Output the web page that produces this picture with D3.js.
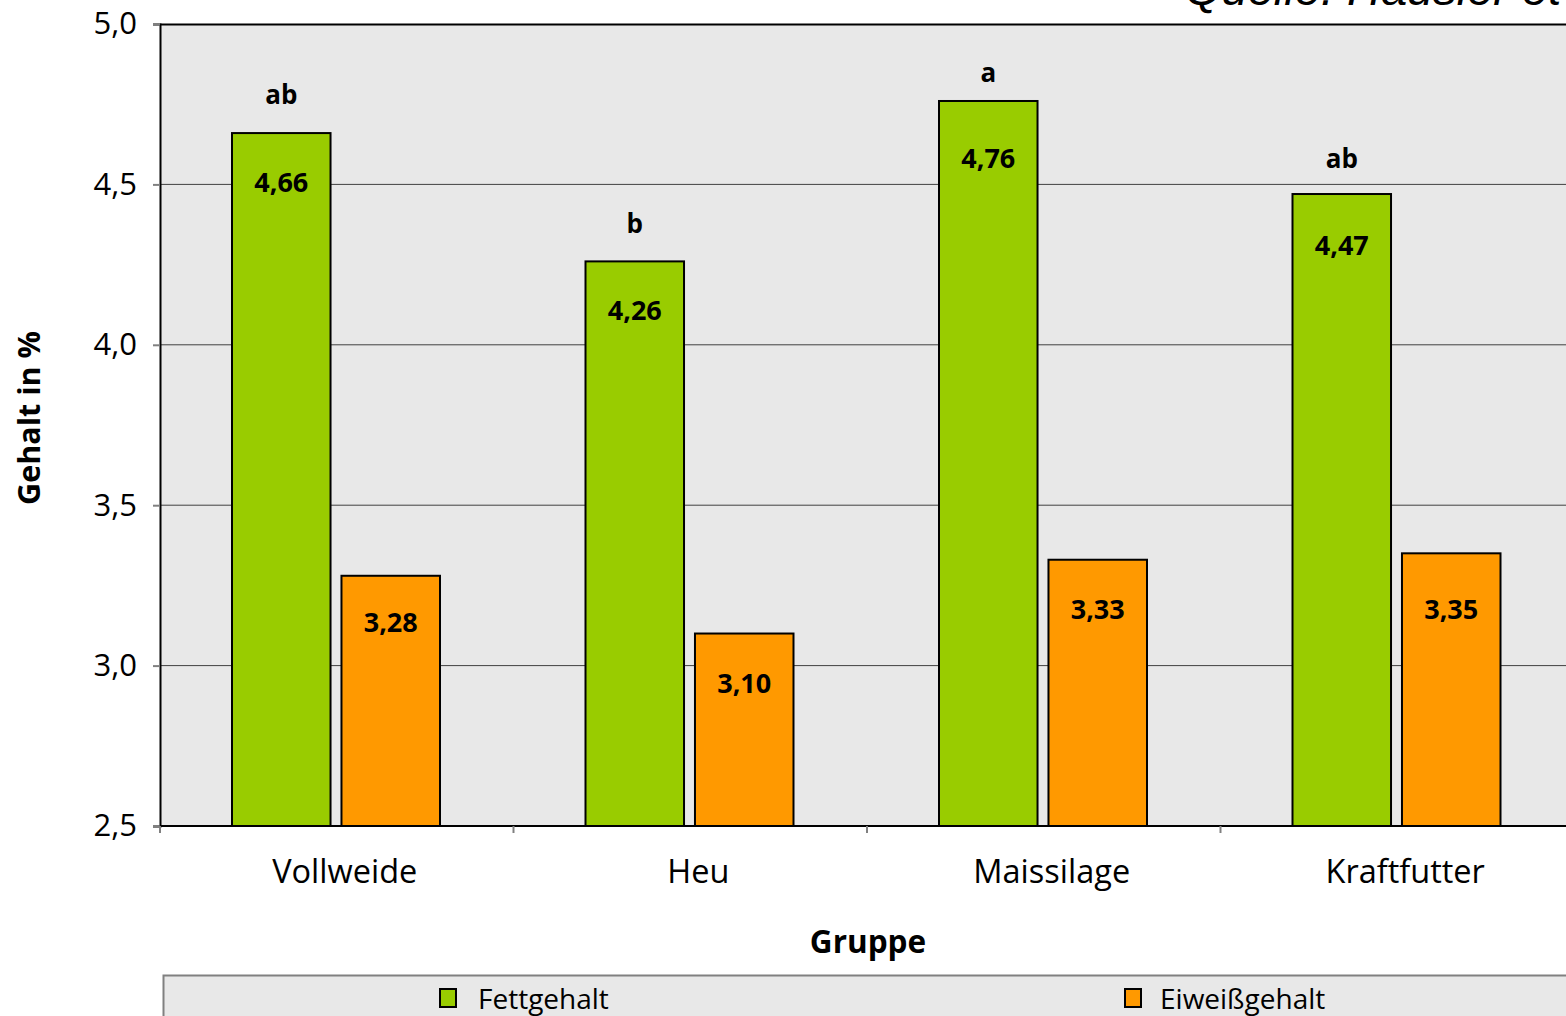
<!DOCTYPE html>
<html><head><meta charset="utf-8">
<script src="https://cdn.jsdelivr.net/npm/d3@7"></script>
<style>
body{margin:0;background:#fff;}
svg{display:block;font-family:"Open Sans",sans-serif;}
</style></head>
<body>
<svg id="c" width="1566" height="1016"></svg>
<script>
const categories = ["Vollweide","Heu","Maissilage","Kraftfutter"];
const seriesNames = ["Fettgehalt","Eiweißgehalt"];
const fettValues = [4.66,4.26,4.76,4.47];
const eiweissValues = [3.28,3.10,3.33,3.35];
const letters = ["ab","b","a","ab"];
const yTicks = [2.5,3.0,3.5,4.0,4.5,5.0];
const colors = ["#99cc00","#ff9900"];

// layout: label distances from bar tops (px), as placed in the original
const valueLabelOffsets = [[48,46],[48,49],[57,49],[50,55]];
const letterLabelOffsets = [39,38,29,36];

const svg = d3.select("#c");
const mLeft = 160, mTop = 24, mBottom = 826, mRight = 1574;
const y = d3.scaleLinear().domain([2.5,5]).range([mBottom, mTop]);
const x0 = d3.scaleBand().domain(categories).range([mLeft, mRight]).padding(0);
const x1 = d3.scaleBand().domain(seriesNames).range([72, 280]).paddingInner(0.1);
const fmt = v => d3.format(".2f")(v).replace(".", ",");
const fmt1 = v => d3.format(".1f")(v).replace(".", ",");

// source text (cut off at top, as in the original)
svg.append("text").attr("x",1185).attr("y",5)
  .attr("font-family","'Liberation Sans',Arial,sans-serif").attr("font-style","italic")
  .attr("font-size",47).attr("fill","#000").text("Quelle: Häusler et al.");

// plot area
svg.append("rect").attr("x",mLeft).attr("y",mTop).attr("width",mRight-mLeft).attr("height",mBottom-mTop)
  .attr("fill","#e8e8e8");

// gridlines
svg.append("g").selectAll("line").data(yTicks.filter(t=>t>2.5 && t<5)).join("line")
  .attr("x1",mLeft).attr("x2",mRight).attr("y1",d=>y(d)).attr("y2",d=>y(d))
  .attr("stroke","#404040").attr("stroke-width",1);

// top border
svg.append("line").attr("x1",mLeft).attr("x2",mRight).attr("y1",mTop+0.5).attr("y2",mTop+0.5)
  .attr("stroke","#000").attr("stroke-width",2);

// bars
const data = categories.map((c,i)=>({c, i, vals:[fettValues[i], eiweissValues[i]], letter:letters[i]}));
const groups = svg.append("g").selectAll("g").data(data).join("g")
  .attr("transform",d=>`translate(${x0(d.c)},0)`);
groups.selectAll("rect").data(d=>d.vals.map((v,j)=>({v, s:seriesNames[j], j}))).join("rect")
  .attr("x",d=>x1(d.s)).attr("width",x1.bandwidth())
  .attr("y",d=>y(d.v)).attr("height",d=>mBottom-y(d.v))
  .attr("fill",d=>colors[d.j]).attr("stroke","#000").attr("stroke-width",2);
groups.selectAll("text.val").data(d=>d.vals.map((v,j)=>({v, s:seriesNames[j], j, i:d.i}))).join("text")
  .attr("class","val")
  .attr("x",d=>x1(d.s)+x1.bandwidth()/2).attr("y",d=>y(d.v)+valueLabelOffsets[d.i][d.j])
  .attr("text-anchor","middle").attr("dominant-baseline","central")
  .attr("font-weight","bold").attr("font-size",27).attr("fill","#000")
  .text(d=>fmt(d.v));
groups.append("text")
  .attr("x",x1(seriesNames[0])+x1.bandwidth()/2).attr("y",d=>y(d.vals[0])-letterLabelOffsets[d.i])
  .attr("text-anchor","middle").attr("dominant-baseline","central")
  .attr("font-weight","bold").attr("font-size",26).attr("fill","#000")
  .text(d=>d.letter);

// y axis
const yAxis = svg.append("g").attr("transform",`translate(${mLeft},0)`)
  .call(d3.axisLeft(y).tickValues(yTicks).tickFormat(fmt1).tickSize(7).tickPadding(16));
yAxis.select(".domain").attr("stroke","#000").attr("stroke-width",2);
yAxis.selectAll(".tick line").attr("stroke","#808080").attr("stroke-width",2);
yAxis.selectAll(".tick text").attr("font-size",31).attr("fill","#000").attr("font-family","'Open Sans',sans-serif");

// x axis
const xTickPos = categories.map(c=>x0(c));
const xAxis = svg.append("g").attr("transform",`translate(0,${mBottom})`);
xAxis.append("line").attr("x1",mLeft).attr("x2",mRight).attr("y1",0).attr("y2",0)
  .attr("stroke","#000").attr("stroke-width",2);
xAxis.selectAll("line.t").data(xTickPos).join("line").attr("class","t")
  .attr("x1",d=>d).attr("x2",d=>d).attr("y1",0).attr("y2",7)
  .attr("stroke","#808080").attr("stroke-width",2);
xAxis.selectAll("text").data(categories).join("text")
  .attr("x",d=>x0(d)+x0.bandwidth()/2 + 8).attr("y",44)
  .attr("text-anchor","middle").attr("dominant-baseline","central")
  .attr("font-size",32.5).attr("fill","#000").text(d=>d);

// axis titles
svg.append("text").attr("x",868).attr("y",940).attr("text-anchor","middle")
  .attr("dominant-baseline","central").attr("font-weight","bold").attr("font-size",31.5)
  .text("Gruppe");
svg.append("text").attr("transform","translate(28,418) rotate(-90)").attr("text-anchor","middle")
  .attr("dominant-baseline","central").attr("font-weight","bold").attr("font-size",30.5)
  .text("Gehalt in %");

// legend
svg.append("rect").attr("x",163.5).attr("y",975.5).attr("width",1420).attr("height",60)
  .attr("fill","#e8e8e8").attr("stroke","#808080").attr("stroke-width",2);
const legX = [440, 1125];
const leg = svg.append("g").selectAll("g").data(seriesNames).join("g")
  .attr("transform",(d,i)=>`translate(${legX[i]},989)`);
leg.append("rect").attr("x",0).attr("y",0).attr("width",16).attr("height",18)
  .attr("fill",(d,i)=>colors[i]).attr("stroke","#000").attr("stroke-width",2);
leg.append("text").attr("x",(d,i)=>i===0?38:35).attr("y",9).attr("dominant-baseline","central")
  .attr("font-size",28).attr("fill","#000").text(d=>d);
</script>
</body></html>
